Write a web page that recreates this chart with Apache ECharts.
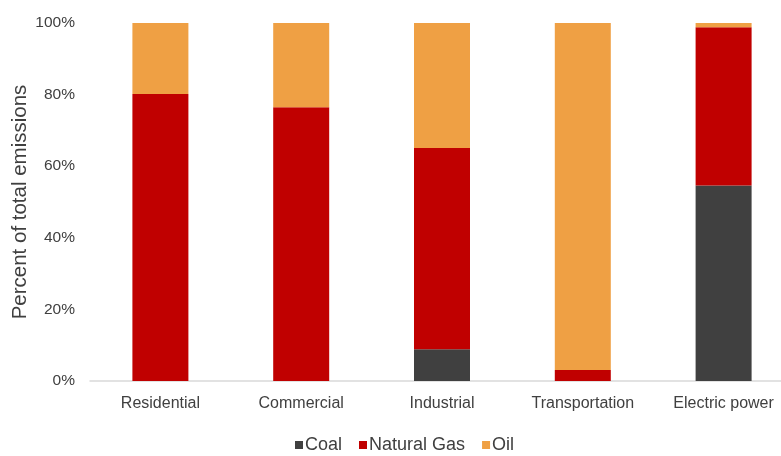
<!DOCTYPE html>
<html>
<head>
<meta charset="utf-8">
<script src="https://cdn.jsdelivr.net/npm/echarts@6/dist/echarts.min.js"></script>
<style>
  html, body { margin: 0; padding: 0; background: #fff; overflow: hidden; }
  #chart { width: 800px; height: 456px; }
</style>
</head>
<body>
<div id="chart"></div>
<script>
// Share of each sector's emissions by fuel (percent)
const sectors = ['Residential', 'Commercial', 'Industrial', 'Transportation', 'Electric power'];
const coal = [0, 0, 8.9, 0, 54.6];
const naturalGas = [80.2, 76.5, 56.2, 3.1, 44.2];
const oil = [19.8, 23.5, 34.9, 96.9, 1.2];
const yTicks = [0, 20, 40, 60, 80, 100];

const fontFamily = '"Liberation Sans", Arial, sans-serif';
const textColor = '#404040';

const chart = echarts.init(document.getElementById('chart'));

function barSeries(name, data, color) {
  return {
    name: name,
    type: 'bar',
    stack: 'total',
    data: data,
    barWidth: 56,
    itemStyle: { color: color },
    emphasis: { disabled: true }
  };
}

chart.setOption({
  animation: false,
  textStyle: { fontFamily: fontFamily },
  grid: { left: 90, top: 23, width: 704, height: 358, containLabel: false, outerBoundsMode: 'none' },
  legend: {
    top: 431,
    left: 290,
    itemWidth: 8,
    itemHeight: 8,
    itemGap: 17,
    icon: 'rect',
    textStyle: { fontSize: 18, color: textColor, fontFamily: fontFamily, padding: [0, 0, 0, -3] },
    data: ['Coal', 'Natural Gas', 'Oil']
  },
  xAxis: {
    type: 'category',
    data: sectors,
    axisLine: { lineStyle: { color: '#D9D9D9', width: 1.5 } },
    axisTick: { show: false },
    axisLabel: { color: textColor, fontSize: 16, margin: 15, fontFamily: fontFamily }
  },
  yAxis: {
    type: 'value',
    min: yTicks[0],
    max: yTicks[yTicks.length - 1],
    interval: yTicks[1] - yTicks[0],
    name: 'Percent of total emissions',
    nameLocation: 'middle',
    nameGap: 59,
    nameMoveOverlap: false,
    nameTextStyle: { color: textColor, fontSize: 20.5, fontFamily: fontFamily },
    splitLine: { show: false },
    axisLine: { show: false },
    axisTick: { show: false },
    axisLabel: {
      color: textColor,
      fontSize: 15.5,
      margin: 15,
      fontFamily: fontFamily,
      formatter: v => v + '%'
    }
  },
  series: [
    barSeries('Coal', coal, '#404040'),
    barSeries('Natural Gas', naturalGas, '#C00000'),
    barSeries('Oil', oil, '#EFA044')
  ]
});
</script>
</body>
</html>
